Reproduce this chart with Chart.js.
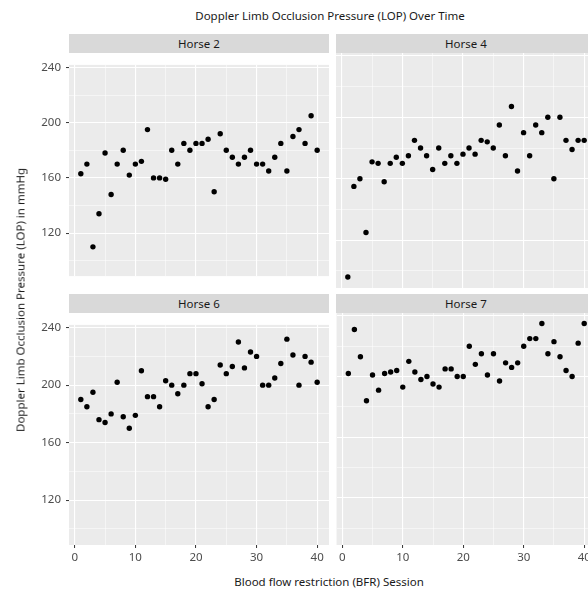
<!DOCTYPE html>
<html>
<head>
<meta charset="utf-8">
<script src="https://cdn.jsdelivr.net/npm/chart.js@4"></script>
<style>
  html, body { margin: 0; padding: 0; background: #fff; }
  body { width: 588px; height: 593px; overflow: hidden; position: relative; font-family: 'Noto Sans', sans-serif; }
  canvas { position: absolute; }
  .strip { position: absolute; height: 19px; background: #D9D9D9; color: #1A1A1A; font-size: 11.5px; line-height: 19px; text-align: center; }
  .label { position: absolute; color: #1A1A1A; font-size: 11.5px; white-space: nowrap; }
</style>
</head>
<body>
<div class="label" style="left:0;width:660px;top:8px;text-align:center;">Doppler Limb Occlusion Pressure (LOP) Over Time</div>

<div class="strip" style="left:69px;top:34px;width:260px;">Horse 2</div>
<div class="strip" style="left:336px;top:34px;width:260px;">Horse 4</div>
<div class="strip" style="left:69px;top:294px;width:260px;">Horse 6</div>
<div class="strip" style="left:336px;top:294px;width:260px;">Horse 7</div>

<canvas id="h2" width="329" height="235" style="left:0;top:53px;width:329px;height:235px"></canvas>
<canvas id="h4" width="260" height="235" style="left:336px;top:53px;width:260px;height:235px"></canvas>
<canvas id="h6" width="329" height="256" style="left:0;top:313px;width:329px;height:256px"></canvas>
<canvas id="h7" width="260" height="256" style="left:336px;top:313px;width:260px;height:256px"></canvas>

<div class="label" style="left:0;width:658px;top:574px;text-align:center;">Blood flow restriction (BFR) Session</div>
<div class="label" style="left:20px;top:300px;transform:translate(-50%,-50%) rotate(-90deg);">Doppler Limb Occlusion Pressure (LOP) in mmHg</div>

<script>
const sessions = [1, 2, 3, 4, 5, 6, 7, 8, 9, 10, 11, 12, 13, 14, 15, 16, 17, 18, 19, 20,
                  21, 22, 23, 24, 25, 26, 27, 28, 29, 30, 31, 32, 33, 34, 35, 36, 37, 38, 39, 40]

const horse2 = [163, 170, 110, 134, 178, 148, 170, 180, 162, 170, 172, 195, 160, 160, 159, 180, 170, 185, 180, 185,
                185, 188, 150, 192, 180, 175, 170, 175, 180, 170, 170, 165, 175, 185, 165, 190, 195, 185, 205, 180]
const horse4 = [96, 155, 160, 125, 171, 170, 158, 170, 174, 170, 175, 185, 180, 175, 166, 180, 170, 175, 170, 176,
                180, 176, 185, 184, 180, 195, 175, 207, 165, 190, 175, 195, 190, 200, 160, 200, 185, 179, 185, 185]
const horse6 = [190, 185, 195, 176, 174, 180, 202, 178, 170, 179, 210, 192, 192, 185, 203, 200, 194, 200, 208, 208,
                201, 185, 190, 214, 208, 213, 230, 212, 223, 220, 200, 200, 205, 215, 232, 221, 200, 220, 216, 202]
const horse7 = [202, 231, 213, 184, 201, 191, 202, 203, 204, 193, 210, 203, 198, 200, 195, 193, 205, 205, 200, 200,
                220, 208, 215, 201, 215, 197, 209, 206, 209, 220, 225, 225, 235, 215, 223, 213, 204, 200, 222, 235]

// grid breaks: majors get labels, minors only a thin white line
const xBreaks = [0, 5, 10, 15, 20, 25, 30, 35, 40]
const xMajor  = [0, 10, 20, 30, 40]
const yBreaks = [100, 120, 140, 160, 180, 200, 220, 240]
const yMajor  = [120, 160, 200, 240]

const FONT = { family: 'Noto Sans', size: 11.5 }
const TICK_COLOR = '#4D4D4D'

const panelBg = {
  id: 'panelBg',
  beforeDraw(chart) {
    const { ctx, chartArea: { left, top, width, height } } = chart
    ctx.save()
    ctx.fillStyle = '#EBEBEB'
    ctx.fillRect(left, top, width, height)
    ctx.restore()
  },
}

function axis(breaks, major, min, max, show, isX) {
  return {
    type: 'linear',
    min, max,
    afterBuildTicks: s => { s.ticks = breaks.map(value => ({ value })) },
    afterFit: s => {
      if (isX) s.height = show ? 24 : 0
      else s.width = show ? 69 : 0
    },
    border: { display: false },
    grid: {
      color: '#FFFFFF',
      lineWidth: c => major.includes(c.tick.value) ? 1.1 : 0.5,
      drawTicks: show,
      tickLength: 3,
      tickWidth: 1,
      tickColor: c => major.includes(c.tick.value) ? '#333333' : 'rgba(0,0,0,0)',
    },
    ticks: {
      display: show,
      color: TICK_COLOR,
      font: FONT,
      padding: isX ? 3 : 5,
      autoSkip: false,
      maxRotation: 0,
      callback: v => major.includes(v) ? String(v) : '',
    },
  }
}

function renderPanel(id, values, showX, showY) {
  const ctx = document.getElementById(id).getContext('2d')
  new Chart(ctx, {
    type: 'scatter',
    data: {
      datasets: [{
        data: sessions.map((s, i) => ({ x: s, y: values[i] })),
        backgroundColor: '#000000',
        borderWidth: 0,
        pointRadius: 2.7,
      }],
    },
    options: {
      responsive: false,
      animation: false,
      layout: { autoPadding: false, padding: 0 },
      plugins: { legend: { display: false }, tooltip: { enabled: false } },
      scales: {
        x: axis(xBreaks, xMajor, -0.95, 41.95, showX, true),
        y: axis(yBreaks, yMajor, 88.8, 241.9, showY, false),
      },
    },
    plugins: [panelBg],
  })
}

renderPanel('h2', horse2, false, true)
renderPanel('h4', horse4, false, false)
renderPanel('h6', horse6, true, true)
renderPanel('h7', horse7, true, false)
</script>
</body>
</html>
